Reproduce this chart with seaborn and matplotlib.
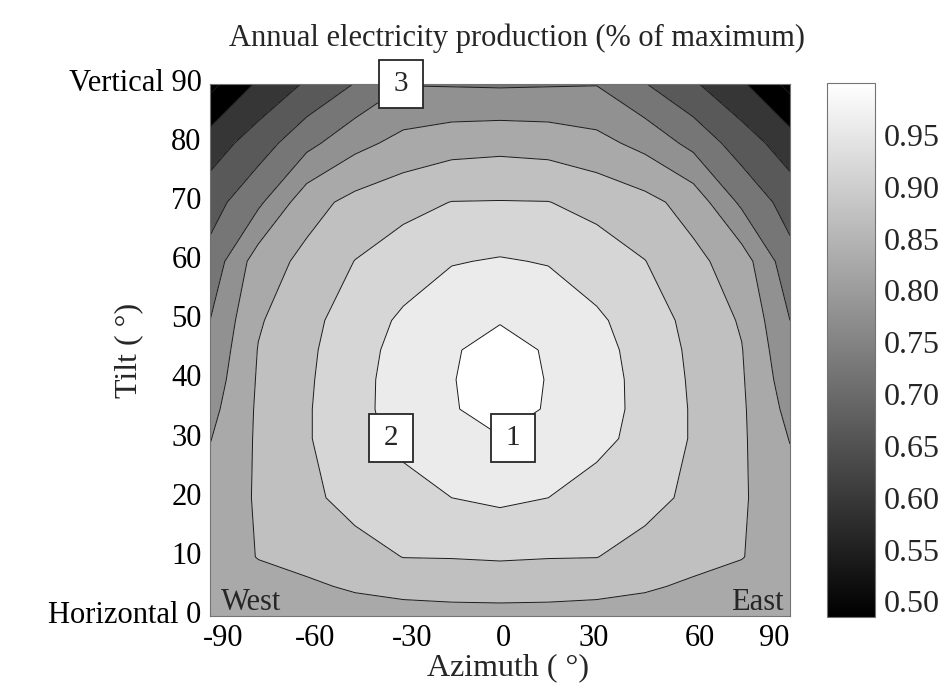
import numpy as np
import matplotlib
matplotlib.use("Agg")
import matplotlib.pyplot as plt
import matplotlib.colors as mcolors
import matplotlib.transforms as mtransforms
from matplotlib.path import Path
import seaborn as sns

# annual production relative to maximum
# columns = azimuth, rows = tilt
azimuth = [-90, -75, -60, -45, -30, -15, 0, 15, 30, 45, 60, 75, 90]
tilt = [0, 5, 10, 20, 30, 35, 40, 45, 50, 60, 70, 80, 90]

prod_t00 = [0.785, 0.785, 0.785, 0.785, 0.785, 0.785, 0.785, 0.785, 0.785, 0.785, 0.785, 0.785, 0.785]
prod_t05 = [0.785, 0.790, 0.795, 0.804, 0.812, 0.817, 0.819, 0.817, 0.812, 0.804, 0.795, 0.790, 0.785]
prod_t10 = [0.785, 0.801, 0.810, 0.830, 0.851, 0.852, 0.855, 0.852, 0.851, 0.830, 0.810, 0.801, 0.785]
prod_t20 = [0.770, 0.805, 0.838, 0.868, 0.885, 0.900, 0.909, 0.900, 0.885, 0.868, 0.838, 0.805, 0.770]
prod_t30 = [0.748, 0.807, 0.845, 0.888, 0.910, 0.935, 0.947, 0.935, 0.910, 0.888, 0.845, 0.807, 0.748]
prod_t35 = [0.735, 0.807, 0.845, 0.888, 0.917, 0.945, 0.975, 0.945, 0.917, 0.888, 0.845, 0.807, 0.735]
prod_t40 = [0.722, 0.805, 0.843, 0.885, 0.920, 0.945, 1.000, 0.945, 0.920, 0.885, 0.843, 0.805, 0.722]
prod_t45 = [0.711, 0.802, 0.840, 0.882, 0.916, 0.942, 0.980, 0.942, 0.916, 0.882, 0.840, 0.802, 0.711]
prod_t50 = [0.700, 0.795, 0.835, 0.875, 0.908, 0.935, 0.945, 0.935, 0.908, 0.875, 0.835, 0.795, 0.700]
prod_t60 = [0.667, 0.775, 0.813, 0.851, 0.875, 0.897, 0.904, 0.897, 0.875, 0.851, 0.813, 0.775, 0.667]
prod_t70 = [0.628, 0.690, 0.780, 0.815, 0.835, 0.851, 0.852, 0.851, 0.835, 0.815, 0.780, 0.690, 0.628]
prod_t80 = [0.574, 0.625, 0.685, 0.735, 0.765, 0.780, 0.785, 0.780, 0.765, 0.735, 0.685, 0.625, 0.574]
prod_t90 = [0.485, 0.558, 0.606, 0.652, 0.698, 0.696, 0.694, 0.696, 0.698, 0.652, 0.606, 0.558, 0.485]

levels = [0.48, 0.50, 0.55, 0.60, 0.65, 0.70, 0.75, 0.80, 0.85, 0.90, 0.95, 1.001]
cbar_ticks = [0.50, 0.55, 0.60, 0.65, 0.70, 0.75, 0.80, 0.85, 0.90, 0.95]
cbar_labels = ["0.50", "0.55", "0.60", "0.65", "0.70", "0.75", "0.80", "0.85", "0.90", "0.95"]

# tick labels sit where the original put them (not evenly spaced)
az_tick_pos = [-86, -57.4, -27.2, 1.1, 29.0, 62.0, 85.0]
az_tick_labels = ["-90", "-60", "-30", "0", "30", "60", "90"]
tilt_ticks = [0, 10, 20, 30, 40, 50, 60, 70, 80, 90]
tilt_tick_labels = ["Horizontal 0", "10", "20", "30", "40", "50", "60", "70", "80", "Vertical 90"]

# numbered points
point_ids = ["1", "2", "3"]
point_az = [4.0, -33.8, -30.7]
point_tilt = [30.1, 30.1, 90.0]


def label_box(x0, y0, width, height, mutation_size):
    # square box, more padding sideways than a plain square style
    px = 0.5 * mutation_size
    py = 0.37 * mutation_size
    x0, y0 = x0 - px, y0 - py
    x1, y1 = x0 + width + 2 * px, y0 + height + 2 * py
    return Path([(x0, y0), (x1, y0), (x1, y1), (x0, y1), (x0, y0)], closed=True)


sns.set_theme(style="white")
plt.rcParams["font.family"] = ["Liberation Serif", "DejaVu Serif"]

Z = np.array([prod_t00, prod_t05, prod_t10, prod_t20, prod_t30, prod_t35, prod_t40,
              prod_t45, prod_t50, prod_t60, prod_t70, prod_t80, prod_t90])

cmap = sns.color_palette("gray", as_cmap=True)
norm = mcolors.Normalize(vmin=0.485, vmax=1.0)
# each band filled with the gray of its lower level (0.50 -> black, 0.95 -> white)
band_colors = [cmap(np.clip((lv - 0.50) / 0.45, 0, 1) ** 0.7) for lv in levels[:-1]]

fig = plt.figure(figsize=(9.5, 6.92), dpi=100)
ax = fig.add_axes([210 / 950, 76 / 692, 580 / 950, 532 / 692])
cax = fig.add_axes([827 / 950, 75 / 692, 48 / 950, 534 / 692])

ax.contourf(azimuth, tilt, Z, levels=levels, colors=band_colors)
ax.contour(azimuth, tilt, Z, levels=levels[1:-1], colors="k", linewidths=0.7)
ax.set_xlim(-90, 90)
ax.set_ylim(0, 90)

fs = 22
ax.set_xticks(az_tick_pos, az_tick_labels)
ax.set_yticks(tilt_ticks, tilt_tick_labels)
ax.tick_params(axis="both", length=0, labelsize=fs, colors="black")
ax.tick_params(axis="x", pad=6)
ax.tick_params(axis="y", pad=6)
shift_up = mtransforms.ScaledTranslation(0, 3 / 72, fig.dpi_scale_trans)
for lab in ax.get_yticklabels():
    lab.set_transform(lab.get_transform() + shift_up)
for s in ax.spines.values():
    s.set_color("0.45")
    s.set_linewidth(0.8)

ax.set_xlabel("Azimuth ( °)", fontsize=23)
ax.xaxis.set_label_coords(0.514, -0.07)
ax.xaxis.label.set_va("top")
ax.set_ylabel("Tilt ( °)", fontsize=23)
ax.yaxis.set_label_coords(-0.115, 0.5)

ax.text(-86.6, 1.0, "West", ha="left", va="baseline", fontsize=fs)
ax.text(88.0, 1.0, "East", ha="right", va="baseline", fontsize=fs)

for pid, a, t in zip(point_ids, point_az, point_tilt):
    ax.text(a, t, pid, ha="center", va="center", fontsize=21, zorder=5, clip_on=False,
            bbox=dict(boxstyle=label_box, fc="white", ec="0.15", lw=1.3))

fig.text(0.544, 1 - 38 / 692, "Annual electricity production (% of maximum)",
         ha="center", va="center", fontsize=22)

sm = matplotlib.cm.ScalarMappable(norm=norm, cmap=cmap)
cb = fig.colorbar(sm, cax=cax, ticks=cbar_ticks)
cb.set_ticklabels(cbar_labels)
cb.outline.set_edgecolor("0.45")
cb.outline.set_linewidth(0.8)
cax.tick_params(axis="y", which="both", direction="in", length=4, width=0.6,
                color="0.45", left=True, right=True, labelsize=23, pad=6)

fig.savefig("out.png", dpi=100)
